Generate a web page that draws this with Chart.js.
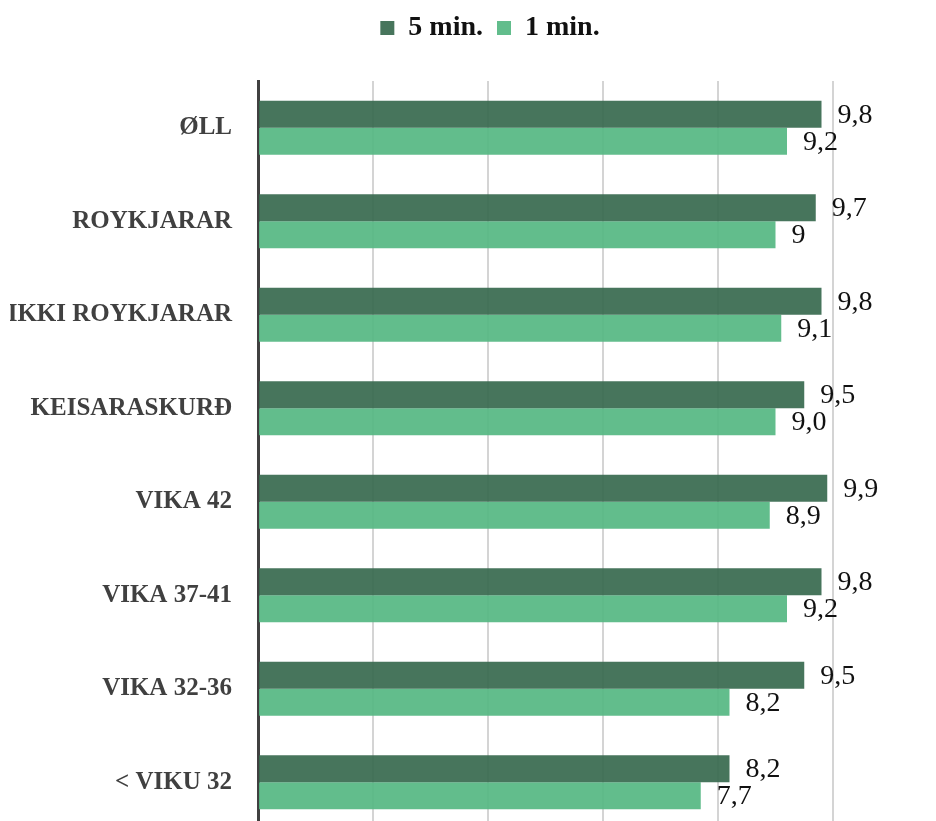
<!DOCTYPE html>
<html>
<head>
<meta charset="utf-8">
<script src="https://cdn.jsdelivr.net/npm/chart.js@4/dist/chart.umd.min.js"></script>
<style>
  html, body { margin: 0; padding: 0; background: #fff; overflow: hidden; }
  #wrap { width: 936px; height: 870px; position: relative; }
</style>
</head>
<body>
<div id="wrap"><canvas id="myChart"></canvas></div>
<script>
// categories + values
var categories = ["ØLL", "ROYKJARAR", "IKKI ROYKJARAR", "KEISARASKURÐ", "VIKA 42", "VIKA 37-41", "VIKA 32-36", "< VIKU 32"];
var fiveMin = [9.8, 9.7, 9.8, 9.5, 9.9, 9.8, 9.5, 8.2];
var oneMin = [9.2, 9, 9.1, 9.0, 8.9, 9.2, 8.2, 7.7];
// label texts as printed (one says "9", another "9,0")
var fiveMinLabels = ["9,8", "9,7", "9,8", "9,5", "9,9", "9,8", "9,5", "8,2"];
var oneMinLabels = ["9,2", "9", "9,1", "9,0", "8,9", "9,2", "8,2", "7,7"];

var serif = "'Liberation Serif', 'Times New Roman', serif";

// value labels to the right of each bar
var barLabels = {
    id: 'barLabels',
    afterDatasetsDraw(chart) {
        var ctx = chart.ctx;
        var texts = [fiveMinLabels, oneMinLabels];
        ctx.save();
        ctx.font = "28px " + serif;
        ctx.fillStyle = "#111";
        ctx.textAlign = "left";
        ctx.textBaseline = "middle";
        chart.data.datasets.forEach(function (ds, i) {
            var meta = chart.getDatasetMeta(i);
            meta.data.forEach(function (bar, j) {
                ctx.fillText(texts[i][j], bar.x + 16, bar.y + 1);
            });
        });
        ctx.restore();
    }
};

// give the legend some extra room below and move it right a bit
var legendTweak = {
    id: 'legendTweak',
    beforeInit(chart) {
        var origFit = chart.legend.fit;
        chart.legend.fit = function () {
            origFit.bind(chart.legend)();
            this.height += 29;
        };
    },
    afterLayout(chart) {
        var lg = chart.legend;
        var shift = 490 - (lg.left + lg.right) / 2;
        lg.left += shift;
        lg.right += shift;
    }
};

new Chart("myChart", {
    type: "bar",
    data: {
        labels: categories,
        datasets: [{
            label: "5 min.",
            data: fiveMin,
            backgroundColor: "rgba(55,105,78,0.92)"
        }, {
            label: "1 min.",
            data: oneMin,
            backgroundColor: "rgba(85,183,130,0.92)"
        }]
    },
    options: {
        indexAxis: 'y',
        responsive: true,
        maintainAspectRatio: false,
        animation: false,
        categoryPercentage: 0.578,
        barPercentage: 1,
        layout: { padding: { left: 10, right: 103, top: 0, bottom: 0 } },
        plugins: {
            tooltip: { enabled: false },
            legend: {
                position: 'top',
                labels: {
                    boxWidth: 14,
                    boxHeight: 14,
                    padding: 14,
                    color: "#111",
                    font: { family: serif, size: 28, weight: 'bold' }
                }
            }
        },
        scales: {
            x: {
                min: 0,
                max: 10,
                ticks: { display: false, stepSize: 2 },
                grid: { color: "#d4d4d4", lineWidth: 2, drawTicks: false },
                border: { display: false }
            },
            y: {
                afterFit: function (scale) { scale.width = 248; },
                ticks: {
                    color: "#404040",
                    padding: 26,
                    font: { family: serif, size: 25, weight: 'bold' }
                },
                grid: { display: false, drawTicks: false },
                border: { color: "#404040", width: 3 }
            }
        }
    },
    plugins: [barLabels, legendTweak]
});
</script>
</body>
</html>
